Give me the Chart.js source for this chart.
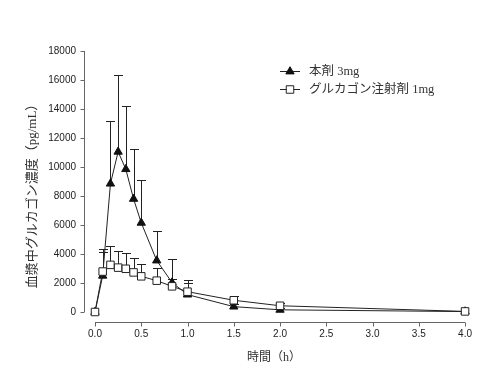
<!DOCTYPE html>
<html>
<head>
<meta charset="utf-8">
<script src="https://cdn.jsdelivr.net/npm/chart.js@4/dist/chart.umd.min.js"></script>
<style>
  html, body { margin: 0; padding: 0; background: #fff; }
  #wrap { width: 488px; height: 384px; }
</style>
</head>
<body>
<div id="wrap"><canvas id="c" width="488" height="384"></canvas></div>
<script>
// ---- data ----
const timesH = [0, 0.083, 0.167, 0.25, 0.333, 0.417, 0.5, 0.667, 0.833, 1.0, 1.5, 2.0, 4.0];
const seriesNames = ['本剤 3mg', 'グルカゴン注射剤 1mg'];
const drugMean = [0, 2500, 8850, 11050, 9850, 7800, 6150, 3550, 2030, 1200, 370, 150, 30];
const drugUpper = [null, 4120, 13200, 16330, 14230, 11230, 9120, 5610, 3630, 2220, 550, 250, null];
const injMean = [0, 2790, 3250, 3060, 2980, 2730, 2460, 2160, 1770, 1400, 810, 430, 40];
const injUpper = [null, 4320, 4520, 4230, 4090, 3720, 3340, 3030, 2250, 2000, 1120, 620, null];
const xTickValues = [0, 0.5, 1.0, 1.5, 2.0, 2.5, 3.0, 3.5, 4.0];
const yTickValues = [0, 2000, 4000, 6000, 8000, 10000, 12000, 14000, 16000, 18000];
const xTitle = '時間（h）';
const yTitle = '血漿中グルカゴン濃度（pg/mL）';

const jpFont = "'Liberation Serif', 'Noto Sans CJK JP', serif";
const numFont = "'Liberation Sans', Arial, sans-serif";
const ink = '#222';
const axisInk = '#666';

const toPts = (ys) => timesH.map((t, i) => ({ x: t, y: ys[i] }));

const errorBars = {
  id: 'errorBars',
  beforeDatasetsDraw(chart) {
    const ctx = chart.ctx;
    const xs = chart.scales.x, ys = chart.scales.y;
    ctx.save();
    ctx.strokeStyle = ink;
    ctx.lineWidth = 1;
    chart.data.datasets.forEach(ds => {
      const ups = ds.upper;
      timesH.forEach((t, i) => {
        const u = ups[i];
        if (u == null) return;
        const px = Math.round(xs.getPixelForValue(t)) + 0.5;
        const py0 = ys.getPixelForValue(ds.data[i].y);
        const py1 = Math.round(ys.getPixelForValue(u)) + 0.5;
        ctx.beginPath();
        ctx.moveTo(px, py0);
        ctx.lineTo(px, py1);
        ctx.moveTo(px - 4.5, py1);
        ctx.lineTo(px + 4.5, py1);
        ctx.stroke();
      });
    });
    ctx.restore();
  }
};

const axesAndText = {
  id: 'axesAndText',
  afterDraw(chart) {
    const ctx = chart.ctx;
    const a = chart.chartArea;
    const xs = chart.scales.x, ys = chart.scales.y;
    ctx.save();
    ctx.strokeStyle = axisInk;
    ctx.lineWidth = 1;
    // y axis (detached)
    const ax = Math.round(a.left - 11) + 0.5;
    ctx.beginPath();
    ctx.moveTo(ax, ys.getPixelForValue(yTickValues[yTickValues.length - 1]));
    ctx.lineTo(ax, ys.getPixelForValue(yTickValues[0]));
    yTickValues.forEach(v => {
      const p = Math.round(ys.getPixelForValue(v)) + 0.5;
      ctx.moveTo(ax - 4, p);
      ctx.lineTo(ax, p);
    });
    ctx.stroke();
    // x axis (detached)
    const ay = Math.round(a.bottom + 10) + 0.5;
    ctx.beginPath();
    ctx.moveTo(xs.getPixelForValue(xTickValues[0]), ay);
    ctx.lineTo(xs.getPixelForValue(xTickValues[xTickValues.length - 1]), ay);
    xTickValues.forEach(v => {
      const p = Math.round(xs.getPixelForValue(v)) + 0.5;
      ctx.moveTo(p, ay);
      ctx.lineTo(p, ay + 4);
    });
    ctx.stroke();

    // axis titles
    ctx.fillStyle = '#333';
    ctx.font = '12px ' + jpFont;
    ctx.textAlign = 'center';
    ctx.textBaseline = 'middle';
    ctx.fillText(xTitle, 274, 358);
    ctx.save();
    ctx.translate(33, 193);
    ctx.rotate(-Math.PI / 2);
    ctx.font = '13px ' + jpFont;
    ctx.fillText(yTitle, 0, 0);
    ctx.restore();

    // legend
    ctx.font = '12.5px ' + jpFont;
    ctx.textAlign = 'left';
    const rows = [71, 88.5];
    chart.data.datasets.forEach((ds, i) => {
      const y = rows[i];
      ctx.strokeStyle = ink;
      ctx.lineWidth = 1;
      ctx.beginPath();
      ctx.moveTo(280, Math.round(y) + 0.5);
      ctx.lineTo(300, Math.round(y) + 0.5);
      ctx.stroke();
      ctx.fillStyle = ds.pointBackgroundColor;
      ctx.strokeStyle = ds.pointBorderColor;
      Chart.helpers.drawPoint(ctx, {
        pointStyle: ds.pointStyle, radius: ds.pointRadius, borderWidth: 1
      }, 290, Math.round(y) + 0.5);
      ctx.fillStyle = '#333';
      ctx.fillText(ds.label, 309, y + 1);
    });
    ctx.restore();
  }
};

new Chart(document.getElementById('c'), {
  type: 'line',
  data: {
    datasets: [
      {
        label: seriesNames[0],
        data: toPts(drugMean),
        upper: drugUpper,
        borderColor: ink, borderWidth: 1,
        pointStyle: 'triangle', pointRadius: 4.8,
        pointBackgroundColor: '#111', pointBorderColor: '#111', pointBorderWidth: 1,
        tension: 0, order: 1, clip: false
      },
      {
        label: seriesNames[1],
        data: toPts(injMean),
        upper: injUpper,
        borderColor: ink, borderWidth: 1,
        pointStyle: 'rect', pointRadius: 5.3,
        pointBackgroundColor: '#fff', pointBorderColor: '#222', pointBorderWidth: 1,
        tension: 0, order: 0, clip: false
      }
    ]
  },
  options: {
    responsive: false,
    animation: false,
    devicePixelRatio: 1,
    layout: { padding: { left: 0, top: 51, right: 22, bottom: 0 } },
    plugins: { legend: { display: false }, tooltip: { enabled: false }, title: { display: false } },
    scales: {
      x: {
        type: 'linear', min: 0, max: 4,
        grid: { display: false, drawTicks: false },
        border: { display: false },
        afterBuildTicks: (s) => { s.ticks = xTickValues.map(v => ({ value: v })); },
        ticks: { padding: 16, color: '#222', font: { family: numFont, size: 10 },
                 callback: (v) => Number(v).toFixed(1), maxRotation: 0, autoSkip: false },
        afterFit: (s) => { s.height = 72; }
      },
      y: {
        type: 'linear', min: 0, max: 18000,
        grid: { display: false, drawTicks: false },
        border: { display: false },
        afterBuildTicks: (s) => { s.ticks = yTickValues.map(v => ({ value: v })); },
        ticks: { padding: 19, color: '#222', font: { family: numFont, size: 10 },
                 callback: (v) => String(v), autoSkip: false },
        afterFit: (s) => { s.width = 95; }
      }
    }
  },
  plugins: [errorBars, axesAndText]
});
</script>
</body>
</html>
